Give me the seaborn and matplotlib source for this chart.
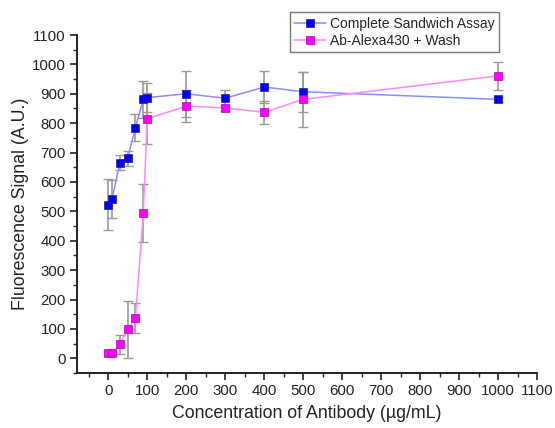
import matplotlib
matplotlib.use("Agg")
import matplotlib.pyplot as plt
from matplotlib.ticker import MultipleLocator
import numpy as np
import pandas as pd
import seaborn as sns

# Antibody concentrations (µg/mL)
conc = [0, 10, 30, 50, 70, 90, 100, 200, 300, 400, 500, 1000]

# Complete sandwich assay: mean signal and error
sandwich_mean = [523, 541, 666, 681, 785, 881, 887, 900, 885, 923, 907, 881]
sandwich_err = [87, 64, 25, 25, 45, 62, 50, 78, 29, 54, 68, 8]

# Ab-Alexa430 + wash: mean signal and error
wash_mean = [19, 17, 47, 99, 138, 495, 815, 858, 852, 837, 881, 961]
wash_err = [5, 5, 31, 97, 51, 98, 87, 55, 10, 40, 93, 47]

series_names = ["Complete Sandwich Assay", "Ab-Alexa430 + Wash"]

sns.set_theme(style="ticks")
plt.rcParams["font.family"] = ["Liberation Sans", "DejaVu Sans"]

fig = plt.figure(figsize=(5.55, 4.28), dpi=100)
ax = fig.add_axes([0.1387, 0.1285, 0.829, 0.7897])

styles = [
    dict(line="#8c8cff", face="#0000ff", edge="#20208a"),
    dict(line="#ff88ff", face="#ff00ff", edge="#b000b0"),
]

for name, mean, err, st in zip(series_names, [sandwich_mean, wash_mean],
                               [sandwich_err, wash_err], styles):
    df = pd.DataFrame({"conc": conc, "signal": mean})
    ax.errorbar(conc, mean, yerr=err, fmt="none", ecolor="#9a9a9a",
                elinewidth=1.2, capsize=3.5, capthick=1.0, zorder=2)
    sns.lineplot(data=df, x="conc", y="signal", ax=ax, label=name,
                 color=st["line"], lw=1.1, marker="s", markersize=5.8,
                 markerfacecolor=st["face"], markeredgecolor=st["edge"],
                 markeredgewidth=0.5, zorder=3)

ax.set_xlim(-80, 1100)
ax.set_ylim(-50, 1100)
ax.xaxis.set_major_locator(MultipleLocator(100))
ax.xaxis.set_minor_locator(MultipleLocator(50))
ax.yaxis.set_major_locator(MultipleLocator(100))
ax.yaxis.set_minor_locator(MultipleLocator(50))

for side in ["top", "right"]:
    ax.spines[side].set_visible(False)
for side in ["left", "bottom"]:
    ax.spines[side].set_color("#222222")
    ax.spines[side].set_linewidth(1.4)

ax.tick_params(which="major", direction="out", length=5, width=1.2,
               color="#222222", labelsize=10.8, labelcolor="#222222", pad=3)
ax.tick_params(which="minor", direction="out", length=3, width=1.0,
               color="#222222")

ax.set_xlabel("Concentration of Antibody (µg/mL)", fontsize=12.8,
              color="#222222", labelpad=5)
ax.set_ylabel("Fluorescence Signal (A.U.)", fontsize=12.8,
              color="#222222", labelpad=2)

leg = ax.legend(loc="upper right", bbox_to_anchor=(0.917, 1.067),
                fontsize=10, frameon=True, fancybox=False,
                edgecolor="#777777", framealpha=1, borderpad=0.3,
                labelspacing=0.25, handlelength=2.3, handletextpad=0.3,
                borderaxespad=0)
leg.get_frame().set_linewidth(1.0)

fig.savefig("out.png", dpi=100)
